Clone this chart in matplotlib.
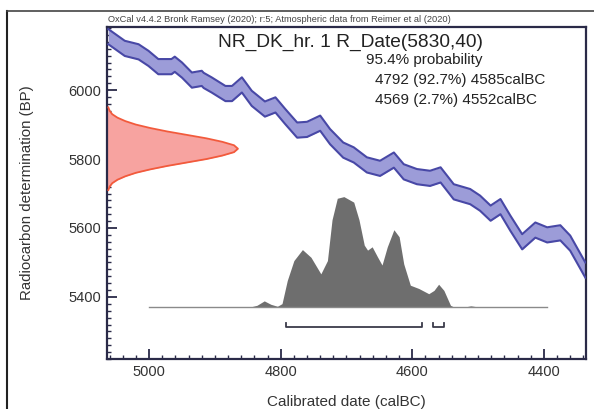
import numpy as np
import matplotlib
matplotlib.use("Agg")
import matplotlib.pyplot as plt
from matplotlib.lines import Line2D
from matplotlib.ticker import MultipleLocator

# calibration curve (IntCal20) centre line
curve_years = [5062, 5037, 5016, 5001, 4986, 4966, 4961, 4950, 4935, 4920,
               4917, 4905, 4884, 4874, 4859, 4844, 4824, 4808, 4793, 4775,
               4760, 4740, 4725, 4705, 4689, 4669, 4649, 4628, 4613, 4593,
               4573, 4557, 4537, 4512, 4497, 4481, 4466, 4451, 4433, 4413,
               4395, 4375, 4360, 4337]
curve_bp = [6155, 6121, 6111, 6092, 6068, 6068, 6075, 6058, 6029, 6034,
            6028, 6015, 5990, 5990, 6015, 5976, 5945, 5957, 5923, 5884,
            5886, 5904, 5865, 5826, 5812, 5783, 5773, 5797, 5763, 5749,
            5744, 5754, 5705, 5691, 5672, 5643, 5662, 5614, 5560, 5594,
            5580, 5586, 5556, 5478]
curve_sigma = 22

meas_bp = [5710, 5720, 5730, 5740, 5750, 5760, 5770, 5780, 5790, 5800,
           5810, 5820, 5830, 5840, 5850, 5860, 5870, 5880, 5890, 5900,
           5910, 5920, 5930, 5940, 5950]
meas_rel = [0.01, 0.02, 0.04, 0.08, 0.14, 0.22, 0.33, 0.46, 0.61, 0.76,
            0.88, 0.97, 1.00, 0.97, 0.88, 0.76, 0.61, 0.46, 0.33, 0.22,
            0.14, 0.08, 0.04, 0.02, 0.01]

# calibrated probability distribution
dist_years = [5000, 4846, 4836, 4825, 4815, 4805, 4798, 4790, 4780, 4767,
              4754, 4739, 4729, 4722, 4714, 4704, 4689, 4681, 4673, 4668,
              4661, 4653, 4646, 4638, 4628, 4620, 4613, 4603, 4590, 4575,
              4567, 4560, 4552, 4542, 4537, 4520, 4511, 4500, 4395]
dist_prob = [0.0, 0.0, 0.015, 0.055, 0.024, 0.006, 0.03, 0.24, 0.42, 0.52,
             0.45, 0.30, 0.42, 0.79, 0.985, 1.0, 0.95, 0.79, 0.56, 0.515,
             0.545, 0.455, 0.38, 0.545, 0.70, 0.636, 0.39, 0.197, 0.167, 0.12,
             0.15, 0.206, 0.15, 0.015, 0.0, 0.0, 0.01, 0.0, 0.0]

# 95.4% ranges
ranges = [(4792, 4585), (4569, 4552)]
range_text = ["4792 (92.7%) 4585calBC", "4569 (2.7%) 4552calBC"]

W, H = 594, 409
fig = plt.figure(figsize=(W / 100, H / 100), dpi=100)
plt.rcParams['font.family'] = ['Liberation Sans', 'DejaVu Sans']

ax = fig.add_axes([107 / W, 1 - 359 / H, (586 - 107) / W, (359 - 27) / H])
x_left, x_right = 5064, 4336
ax.set_xlim(x_left, x_right)
ax.set_ylim(5220, 6183)

# calibration curve band
cy = np.array(curve_bp)
ax.fill_between(curve_years, cy - curve_sigma, cy + curve_sigma,
                color='#9c9cd8', lw=0, zorder=2)
ax.plot(curve_years, cy + curve_sigma, color='#4848a6', lw=1.5, zorder=3,
        solid_joinstyle='round')
ax.plot(curve_years, cy - curve_sigma, color='#4848a6', lw=1.5, zorder=3,
        solid_joinstyle='round')

# measurement on the y axis
meas_w = 199
mx = x_left - np.array(meas_rel) * meas_w
ax.fill_betweenx(meas_bp, x_left, mx, color='#f7a3a0', lw=0, zorder=2)
ax.plot(mx, meas_bp, color='#f25a3c', lw=1.3, zorder=3)

# calibrated distribution
base, height = 5371, 320
dy = base + np.array(dist_prob) * height
ax.fill_between(dist_years, base, dy, color='#6e6e6e', lw=0, zorder=2)
ax.plot([dist_years[0], dist_years[-1]], [base, base], color='#8a8a8a', lw=1.0, zorder=2)

# range brackets
by, bh = 5313, 10
for a, b in ranges:
    ax.plot([a, a, b, b], [by + bh, by, by, by + bh], color='#3a3a4a', lw=1.3, zorder=3)

# axes styling
spine_c = '#2a2a48'
for s in ax.spines.values():
    s.set_color(spine_c)
    s.set_linewidth(1.6)
ax.xaxis.set_major_locator(MultipleLocator(200))
ax.xaxis.set_minor_locator(MultipleLocator(20))
ax.yaxis.set_major_locator(MultipleLocator(200))
ax.yaxis.set_minor_locator(MultipleLocator(20))
ax.tick_params(which='major', direction='in', length=7, width=1.3, color=spine_c,
               labelsize=10.5, labelcolor='#333333', pad=4)
ax.tick_params(which='minor', direction='in', length=3, width=1.0, color=spine_c)
ax.tick_params(top=False, right=False, which='both')
ax.set_xlabel("Calibrated date (calBC)", fontsize=11, color='#333333')
ax.set_ylabel("Radiocarbon determination (BP)", fontsize=10.8, color='#333333')
ax.xaxis.set_label_coords(0.5, -(395 - 359) / 332)
ax.yaxis.set_label_coords(-(107 - 34) / 479, 0.5)

# texts
fig.text(108 / W, 1 - 20 / H,
         "OxCal v4.4.2 Bronk Ramsey (2020); r:5; Atmospheric data from Reimer et al (2020)",
         fontsize=6.7, color='#444444', va='center', ha='left')
fig.text(350 / W, 1 - 42 / H, "NR_DK_hr. 1 R_Date(5830,40)", fontsize=13.8,
         color='#222222', va='center', ha='center')
fig.text(366 / W, 1 - 60 / H, "95.4% probability", fontsize=11,
         color='#222222', va='center', ha='left')
for i, t in enumerate(range_text):
    fig.text(375 / W, 1 - (80 + 20 * i) / H, t, fontsize=11,
             color='#222222', va='center', ha='left')

# outer frame
fig.add_artist(Line2D([7 / W, 7 / W], [0, 1 - 11 / H], color='#222222', lw=1.5,
                      transform=fig.transFigure))
fig.add_artist(Line2D([7 / W, 1], [1 - 11 / H, 1 - 11 / H], color='#444444', lw=1.2,
                      transform=fig.transFigure))

fig.savefig("out.png", dpi=100)
